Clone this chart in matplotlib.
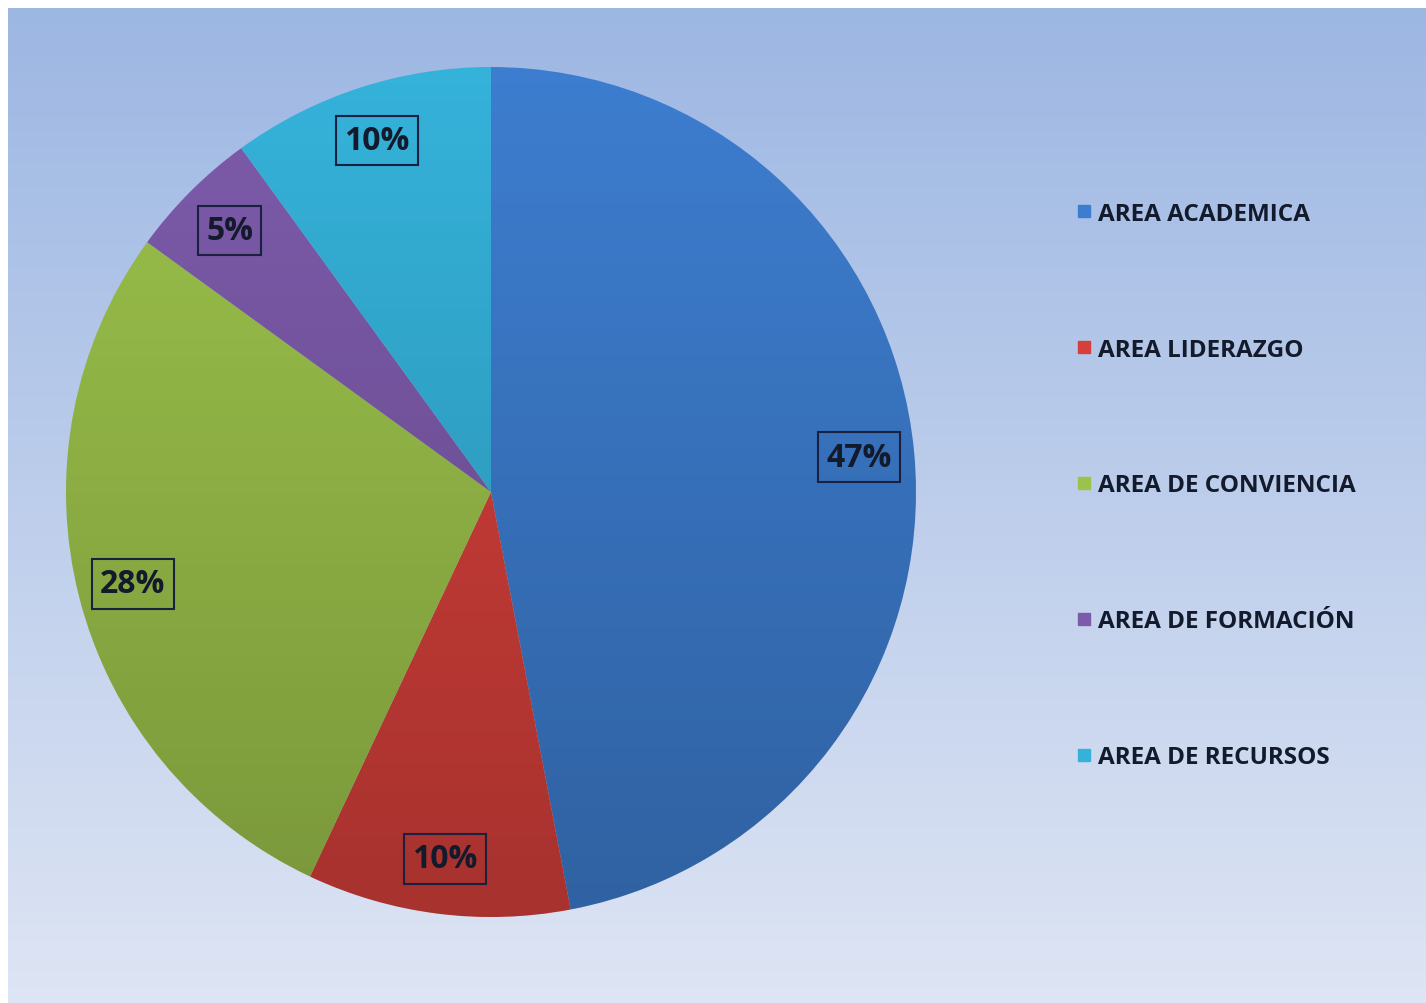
import numpy as np
import matplotlib.pyplot as plt
from matplotlib.patches import Circle
from matplotlib.lines import Line2D

# === Data ===
categories = ["AREA ACADEMICA", "AREA LIDERAZGO", "AREA DE CONVIENCIA",
              "AREA DE FORMACIÓN", "AREA DE RECURSOS"]
values = [47, 10, 28, 5, 10]
colors = ["#3D7DCF", "#D6403B", "#9CC24B", "#7D5BAB", "#35B2DA"]

FONT = ["Open Sans", "DejaVu Sans"]
plt.rcParams["font.family"] = FONT

W, H = 1426, 1004
fig = plt.figure(figsize=(W / 100, H / 100), dpi=100)
fig.patch.set_facecolor("white")

# === Background gradient panel ===
bg = fig.add_axes([8 / W, 0, (W - 8) / W, (H - 9) / H])
bg.axis("off")
top = np.array([0x9D, 0xB7, 0xE3]) / 255
bot = np.array([0xDE, 0xE5, 0xF4]) / 255
t = np.linspace(0, 1, 256)[:, None]
grad = top[None, :] * (1 - t) + bot[None, :] * t
bg.imshow(grad[:, None, :], aspect="auto", extent=[0, 1, 0, 1])
bg.set_xlim(0, 1)
bg.set_ylim(0, 1)

# === Pie ===
cx, cy, r = 491, 493, 425
ax = fig.add_axes([(cx - r) / W, (H - cy - r) / H, 2 * r / W, 2 * r / H])

wedges, _, autotexts = ax.pie(
    values,
    colors=colors,
    startangle=90,
    counterclock=False,
    radius=1,
    autopct="%d%%",
    pctdistance=0.87,
    wedgeprops=dict(linewidth=0),
    textprops=dict(fontsize=23, fontweight="bold", color="#121a2c"),
)
for txt in autotexts:
    txt.set_bbox(dict(facecolor="none", edgecolor="#1a2140", linewidth=1.5, pad=6))
    txt.set_zorder(5)

# shading: darker toward the bottom
shade = np.zeros((256, 1, 4))
shade[:, 0, 3] = np.linspace(0.0, 0.22, 256)
im = ax.imshow(shade, extent=[-1, 1, -1, 1], aspect="auto", zorder=3)
im.set_clip_path(Circle((0, 0), 1, transform=ax.transData))

ax.set_xlim(-1, 1)
ax.set_ylim(-1, 1)
ax.set_aspect("equal")
ax.axis("off")

# === Legend ===
handles = [Line2D([0], [0], marker="s", linestyle="none", markersize=9,
                  markerfacecolor=c, markeredgecolor=c) for c in colors]
leg = fig.legend(handles, categories, loc="upper left",
                 bbox_to_anchor=(1052 / W, 1 - 181 / H), frameon=False,
                 prop=dict(family=FONT, weight="bold", size=17.5),
                 labelspacing=4.6, handletextpad=0.2, handlelength=0.8)
for tx in leg.get_texts():
    tx.set_color("#121a2c")

fig.savefig("out.png", dpi=100)
